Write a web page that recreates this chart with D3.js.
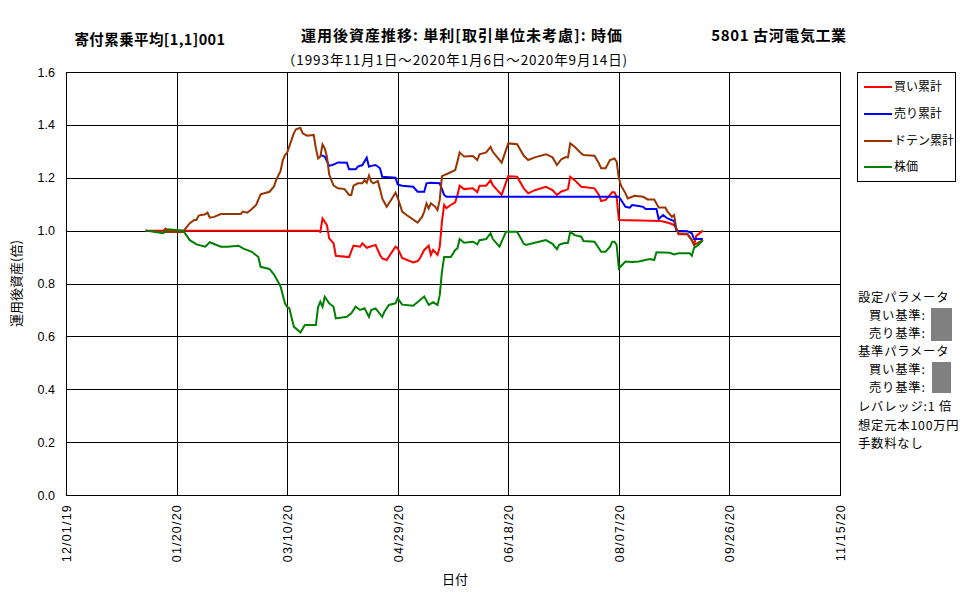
<!DOCTYPE html>
<html><head><meta charset="utf-8">
<script src="https://cdn.jsdelivr.net/npm/d3@7"></script>
<style>
body{margin:0;background:#fff;}
svg{display:block;font-family:"Noto Sans CJK JP","Noto Sans",sans-serif;}
</style></head>
<body><svg id="c" width="977" height="600"></svg>
<script>
// ---- data (year 2020, MM-DD) ----
const buyCum = [
["01-06",1.0],["01-14",1.0],["01-15",1.008],["01-16",1.0],["03-24",1.0],["03-25",0.995],["03-26",1.046],["03-28",1.021],
["03-29",0.971],["03-31",0.952],["04-01",0.905],["04-07",0.90],["04-09",0.943],["04-12",0.939],["04-13",0.952],["04-15",0.935],
["04-19",0.946],["04-21",0.908],["04-22",0.895],["04-24",0.889],["04-28",0.939],["04-29",0.933],["05-01",0.897],["05-06",0.880],
["05-08",0.885],["05-09",0.895],["05-11",0.927],["05-13",0.943],["05-14",0.908],["05-15",0.927],["05-17",0.908],["05-18",0.939],
["05-19",1.034],["05-20",1.097],["05-21",1.085],["05-23",1.097],["05-25",1.107],["05-26",1.135],["05-27",1.17],["05-29",1.157],
["06-02",1.16],["06-04",1.145],["06-05",1.17],["06-08",1.17],["06-10",1.191],["06-11",1.172],["06-15",1.135],["06-18",1.206],
["06-22",1.204],["06-25",1.16],["06-27",1.141],["06-30",1.153],["07-05",1.166],["07-08",1.153],["07-10",1.135],["07-12",1.148],
["07-14",1.153],["07-15",1.157],["07-16",1.204],["07-18",1.191],["07-21",1.166],["07-27",1.16],["07-29",1.135],["07-30",1.112],
["08-01",1.116],["08-04",1.145],["08-05",1.145],["08-06",1.128],["08-07",1.04],["08-26",1.036],["08-30",1.028],["09-01",1.021],
["09-02",1.008],["09-03",0.986],["09-07",0.986],["09-09",0.964],["09-10",0.946],["09-11",0.98],["09-14",1.0]
];
const sellCum = [
["03-25",1.286],["03-27",1.28],["03-29",1.245],["03-31",1.25],["04-02",1.258],["04-06",1.257],["04-07",1.232],["04-10",1.232],
["04-11",1.242],["04-13",1.248],["04-15",1.276],["04-16",1.242],["04-17",1.245],["04-19",1.248],["04-21",1.236],["04-22",1.204],
["04-28",1.2],["04-29",1.175],["05-01",1.17],["05-06",1.166],["05-08",1.147],["05-11",1.147],["05-12",1.179],["05-14",1.181],
["05-18",1.179],["05-20",1.135],["05-21",1.128],["08-07",1.128],["08-08",1.116],["08-10",1.09],["08-12",1.087],["08-13",1.097],
["08-16",1.093],["08-18",1.09],["08-19",1.082],["08-24",1.082],["08-25",1.044],["08-27",1.059],["08-29",1.046],["09-01",1.036],
["09-02",1.0],["09-07",0.998],["09-09",0.99],["09-10",0.968],["09-14",0.968]
];
const dotenCum = [
["01-06",1.0],["01-14",0.995],["01-23",0.995],["01-24",1.008],["01-26",1.028],["01-28",1.04],["01-29",1.04],["01-30",1.057],
["02-02",1.062],["02-03",1.068],["02-04",1.049],["02-06",1.052],["02-09",1.063],["02-18",1.063],["02-19",1.072],["02-21",1.068],
["02-23",1.082],["02-25",1.097],["02-27",1.137],["03-02",1.147],["03-04",1.166],["03-05",1.191],["03-07",1.225],["03-08",1.265],
["03-09",1.286],["03-10",1.295],["03-13",1.368],["03-14",1.383],["03-16",1.389],["03-17",1.368],["03-19",1.359],["03-22",1.362],
["03-23",1.311],["03-24",1.273],["03-25",1.28],["03-26",1.326],["03-27",1.311],["03-28",1.28],["03-29",1.213],["03-30",1.191],
["03-31",1.17],["04-02",1.16],["04-05",1.157],["04-07",1.135],["04-08",1.135],["04-09",1.17],["04-11",1.179],["04-13",1.179],
["04-14",1.191],["04-15",1.181],["04-16",1.208],["04-17",1.185],["04-18",1.179],["04-20",1.188],["04-21",1.157],["04-22",1.122],
["04-24",1.09],["04-26",1.116],["04-28",1.144],["04-29",1.125],["05-01",1.072],["05-03",1.059],["05-08",1.03],["05-10",1.052],
["05-11",1.072],["05-12",1.103],["05-13",1.084],["05-14",1.103],["05-16",1.09],["05-17",1.078],["05-18",1.116],["05-19",1.206],
["05-20",1.21],["05-22",1.217],["05-25",1.229],["05-26",1.261],["05-27",1.296],["05-29",1.28],["06-02",1.282],["06-04",1.267],
["06-05",1.289],["06-08",1.296],["06-10",1.317],["06-11",1.298],["06-15",1.257],["06-18",1.33],["06-22",1.327],["06-25",1.283],
["06-27",1.267],["06-30",1.277],["07-05",1.289],["07-08",1.277],["07-10",1.248],["07-12",1.27],["07-14",1.278],["07-15",1.277],
["07-16",1.33],["07-18",1.317],["07-21",1.292],["07-22",1.286],["07-27",1.283],["07-29",1.254],["07-30",1.236],["08-01",1.236],
["08-03",1.267],["08-05",1.273],["08-06",1.261],["08-07",1.198],["08-08",1.17],["08-10",1.141],["08-11",1.122],["08-13",1.128],
["08-14",1.132],["08-18",1.128],["08-20",1.118],["08-23",1.118],["08-24",1.103],["08-25",1.087],["08-28",1.087],["08-29",1.072],
["08-31",1.052],["09-01",1.059],["09-02",1.006],["09-03",0.99],["09-07",0.988],["09-09",0.964],["09-10",0.946],["09-14",0.964]
];
const stockPrice = [
["01-06",1.0],["01-14",0.99],["01-16",1.005],["01-23",1.0],["01-26",0.964],["01-29",0.948],["02-02",0.939],["02-04",0.956],
["02-09",0.939],["02-12",0.939],["02-17",0.943],["02-19",0.933],["02-23",0.92],["02-26",0.90],["02-27",0.863],["03-02",0.855],
["03-04",0.835],["03-07",0.79],["03-09",0.725],["03-10",0.712],["03-11",0.706],["03-13",0.637],["03-16",0.615],["03-18",0.643],
["03-23",0.643],["03-24",0.712],["03-25",0.731],["03-26",0.712],["03-27",0.75],["03-29",0.725],["03-31",0.712],["04-01",0.668],
["04-06",0.674],["04-08",0.687],["04-10",0.712],["04-12",0.70],["04-14",0.706],["04-16",0.674],["04-17",0.70],["04-19",0.706],
["04-22",0.674],["04-23",0.693],["04-25",0.719],["04-28",0.725],["04-29",0.744],["05-01",0.72],["05-06",0.716],["05-09",0.737],
["05-11",0.751],["05-13",0.719],["05-15",0.729],["05-17",0.719],["05-18",0.756],["05-19",0.845],["05-20",0.90],["05-23",0.90],
["05-25",0.927],["05-26",0.933],["05-27",0.968],["05-29",0.954],["06-02",0.958],["06-04",0.948],["06-05",0.964],["06-08",0.968],
["06-10",0.99],["06-11",0.968],["06-14",0.939],["06-17",0.996],["06-22",0.996],["06-25",0.95],["06-26",0.946],["06-30",0.954],
["07-05",0.964],["07-08",0.95],["07-10",0.93],["07-11",0.946],["07-13",0.952],["07-15",0.954],["07-16",0.996],["07-18",0.983],
["07-21",0.977],["07-22",0.961],["07-27",0.958],["07-30",0.92],["08-01",0.92],["08-03",0.939],["08-04",0.958],["08-05",0.958],
["08-06",0.946],["08-07",0.857],["08-08",0.866],["08-10",0.883],["08-13",0.881],["08-16",0.883],["08-19",0.889],["08-21",0.893],
["08-23",0.889],["08-24",0.918],["08-30",0.916],["09-01",0.91],["09-03",0.914],["09-08",0.914],["09-09",0.905],["09-10",0.935],
["09-12",0.946],["09-14",0.964]
];
const seriesNames = ["買い累計","売り累計","ドテン累計","株価"];
const seriesColors = ["#ff0000","#0000ff","#993300","#008000"];
const xTickDates = ["2019-12-01","2020-01-20","2020-03-10","2020-04-29","2020-06-18","2020-08-07","2020-09-26","2020-11-15"];
const yTicks = [0,0.2,0.4,0.6,0.8,1.0,1.2,1.4,1.6];
const titleLeft = "寄付累乗平均[1,1]001";
const titleMain = "運用後資産推移: 単利[取引単位未考慮]: 時価";
const titleRight = "5801 古河電気工業";
const subTitle = "（1993年11月1日～2020年1月6日～2020年9月14日)";
const paramLines = [["設定パラメータ",0],["買い基準:",1],["売り基準:",1],["基準パラメータ",0],["買い基準:",1],["売り基準:",1],["レバレッジ:1 倍",0],["想定元本100万円",0],["手数料なし",0]];

// ---- drawing ----
const svg = d3.select("#c");
const L=66,R=840,T=72,B=495;
const parse = d3.timeParse("%Y-%m-%d");
const x = d3.scaleTime().domain([parse(xTickDates[0]), parse(xTickDates[xTickDates.length-1])]).range([L,R]);
const y = d3.scaleLinear().domain([0,1.6]).range([B,T]);

const g = svg.append("g");
// grid
g.append("g").selectAll("line").data(yTicks).join("line")
 .attr("x1",L).attr("x2",R).attr("y1",d=>Math.round(y(d))+0.5).attr("y2",d=>Math.round(y(d))+0.5)
 .attr("stroke","#000").attr("stroke-width",1);
g.append("g").selectAll("line").data(xTickDates).join("line")
 .attr("y1",T).attr("y2",B).attr("x1",d=>Math.round(x(parse(d)))+0.5).attr("x2",d=>Math.round(x(parse(d)))+0.5)
 .attr("stroke","#000").attr("stroke-width",1);
g.append("rect").attr("x",L+0.5).attr("y",T+0.5).attr("width",R-L).attr("height",B-T)
 .attr("fill","none").attr("stroke","#000");

// y axis labels
const yAxis = d3.axisLeft(y).tickValues(yTicks).tickFormat(d3.format(".1f")).tickSize(0).tickPadding(11);
const ya = svg.append("g").attr("transform",`translate(${L},0)`).call(yAxis);
ya.select(".domain").remove();
ya.selectAll("text").attr("font-size",12.5).attr("fill","#000").style("font-family","'Liberation Sans',Arial,sans-serif");

// x axis labels
const xAxis = d3.axisBottom(x).tickValues(xTickDates.map(parse)).tickFormat(d3.timeFormat("%m/%d/%y")).tickSize(0);
const xa = svg.append("g").attr("transform",`translate(0,${B})`).call(xAxis);
xa.select(".domain").remove();
xa.selectAll("text").attr("font-size",12.5).attr("fill","#000").style("font-family","'Liberation Sans',Arial,sans-serif")
 .attr("letter-spacing",1.2)
 .attr("transform","rotate(-90)").attr("text-anchor","end").attr("x",-9).attr("y",0).attr("dy","0.35em");

// lines
const line = d3.line().x(d=>x(parse("2020-"+d[0]))).y(d=>y(d[1]));
[buyCum,sellCum,dotenCum,stockPrice].forEach((s,i)=>{
  svg.append("path").datum(s).attr("d",line).attr("fill","none")
   .attr("stroke",seriesColors[i]).attr("stroke-width",2).attr("stroke-linejoin","miter");
});

// titles
svg.append("text").attr("x",150).attr("y",45).attr("text-anchor","middle").attr("font-size",14.5).attr("letter-spacing",0.4).attr("font-weight","bold").text(titleLeft);
svg.append("text").attr("x",462).attr("y",41).attr("text-anchor","middle").attr("font-size",15).attr("letter-spacing",1).attr("font-weight","bold").text(titleMain);
svg.append("text").attr("x",779).attr("y",41).attr("text-anchor","middle").attr("font-size",15).attr("letter-spacing",0.6).attr("font-weight","bold").text(titleRight);
svg.append("text").attr("x",455).attr("y",65).attr("text-anchor","middle").attr("font-size",13.5).attr("letter-spacing",0.9).text(subTitle);
// axis titles
svg.append("text").attr("transform",`translate(21,${(T+B)/2}) rotate(-90)`).attr("text-anchor","middle").attr("font-size",13).text("運用後資産(倍)");
svg.append("text").attr("x",455).attr("y",584).attr("text-anchor","middle").attr("font-size",13).text("日付");

// legend
const lg = svg.append("g");
lg.append("rect").attr("x",857.5).attr("y",72.5).attr("width",98).attr("height",109).attr("fill","#fff").attr("stroke","#000");
const ly = [87,114,141,167];
seriesNames.forEach((n,i)=>{
  lg.append("line").attr("x1",864).attr("x2",892).attr("y1",ly[i]).attr("y2",ly[i]).attr("stroke",seriesColors[i]).attr("stroke-width",2);
  lg.append("text").attr("x",894).attr("y",ly[i]).attr("dy","0.36em").attr("font-size",12).text(n);
});

// parameter panel
const py = [298,316,334,352,370,388,407,426,444];
paramLines.forEach((p,i)=>{
  svg.append("text").attr("x",p[1]?869:858).attr("y",py[i]).attr("dy","0.36em").attr("font-size",12.3).attr("letter-spacing",0.8).text(p[0]);
});
svg.append("rect").attr("x",931).attr("y",308).attr("width",21).attr("height",33).attr("fill","#808080");
svg.append("rect").attr("x",932).attr("y",362).attr("width",19).attr("height",31).attr("fill","#808080");
</script></body></html>
